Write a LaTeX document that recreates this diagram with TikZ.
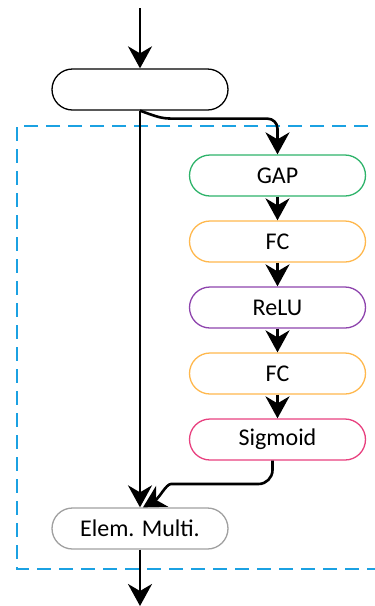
\documentclass[tikz,border=0pt]{standalone}
\usepackage{fontspec}
\setmainfont{Carlito}
\usetikzlibrary{arrows.meta}
\definecolor{cgreen}{HTML}{2EB36A}
\definecolor{corange}{HTML}{FFB84D}
\definecolor{cpurple}{HTML}{8E44AD}
\definecolor{cpink}{HTML}{E8407F}
\definecolor{cgray}{HTML}{A0A0A0}
\definecolor{ccyan}{HTML}{1BA1E2}
\begin{document}
\begin{tikzpicture}[x=1pt,y=-1pt,
  blk/.style={draw,line width=1.3pt,rounded corners=20.5pt,minimum width=176pt,minimum height=41pt,inner sep=0pt,font=\fontsize{24}{28}\selectfont,fill=white},
  arr/.style={line width=2.6pt,-{Stealth[length=22pt,width=24pt,inset=7pt]}},
  ln/.style={line width=2.6pt}]
\useasboundingbox (0,0) rectangle (375,606);
\draw[ccyan,line width=2pt,dash pattern=on 14pt off 8pt] (390,126) -- (17,126) -- (17,569) -- (390,569);
\node[blk,draw=black] (top) at (140,89.5) {};
\node[blk,draw=cgreen] (gap) at (277.5,175.5) {GAP};
\node[blk,draw=corange] (fc1) at (277.5,241.5) {FC};
\node[blk,draw=cpurple] (relu) at (277.5,307.5) {ReLU};
\node[blk,draw=corange] (fc2) at (277.5,373.5) {FC};
\node[blk,draw=cpink] (sig) at (277.5,439.5) {Sigmoid};
\node[blk,draw=cgray] (elem) at (140,528.5) {Elem. Multi.};
\coordinate (in) at (140,8);
\coordinate (out) at (140,606);
\draw[arr] (in) -- (top.north);
\draw[arr] (top.south) -- (elem.north);
\draw[arr,rounded corners=10pt] (top.south) .. controls +(22,8) .. +(50,8) -| (gap.north);
\draw[arr] (gap) -- (fc1);
\draw[arr] (fc1) -- (relu);
\draw[arr] (relu) -- (fc2);
\draw[arr] (fc2) -- (sig);
\draw[arr,rounded corners=14pt] ([xshift=-5pt]sig.south) |- (185,484) to[out=180,in=30] ([xshift=3pt]elem.north);
\draw[arr] (elem.south) -- (out);
\end{tikzpicture}
\end{document}
